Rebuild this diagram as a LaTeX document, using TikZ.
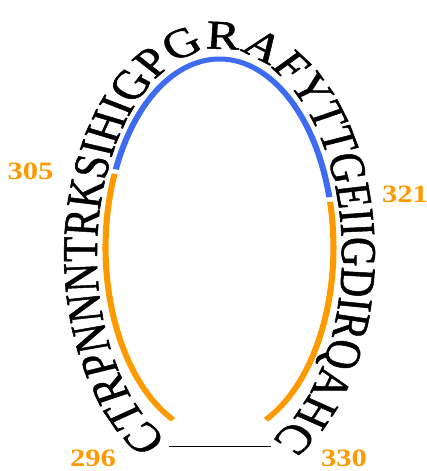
\documentclass[tikz,border=0pt]{standalone}
\usepackage{fontspec}
\setmainfont{Liberation Serif}
\newfontfamily\seqfamily[FakeBold=1.2]{Liberation Serif}
\usetikzlibrary{decorations.text}
\definecolor{lpblue}{RGB}{61,108,242}
\definecolor{lporange}{RGB}{255,153,0}
\newcommand\seqfont{\seqfamily\fontsize{41}{41}\selectfont}

\begin{document}
\begin{tikzpicture}[
x=1pt,y=1pt,
tip/.style={line width=5pt,lporange},
crown/.style={line width=5pt,lpblue},
num/.style={text=lporange,font=\fontsize{25}{25}\selectfont\bfseries,inner sep=0pt},
base/.style={line width=1pt}
]
\useasboundingbox (-219.5,-223.5) rectangle (207.5,247.5);
\begin{scope}[transform canvas={xscale=1.22}]
% sequence along the loop
\begin{scope}[yshift=-6.5pt]
\path[decorate,decoration={text along path,text align=center,
  text={|\seqfont|CTRPNNNTRKSIHIGPGRAFYTTGEIIGDIRQAHC}}]
  (255:100.4pt and 205pt) arc[start angle=255,end angle=-75,x radius=100.4pt,y radius=205pt];
\end{scope}
% coloured segments
\draw[tip] (246:93.4pt and 188.5pt) arc[start angle=246,end angle=157,x radius=93.4pt,y radius=188.5pt];
\draw[crown] (155.5:93.4pt and 188.5pt) arc[start angle=155.5,end angle=15.5,x radius=93.4pt,y radius=188.5pt];
\draw[tip] (14:93.4pt and 188.5pt) arc[start angle=14,end angle=-66,x radius=93.4pt,y radius=188.5pt];
% residue numbers
\node[num] (n305) at (-154.9,76.5) {305};
\node[num] (n321) at (152,53.5) {321};
\node[num] (n296) at (-103.7,-210.5) {296};
\node[num] (n330) at (102,-211) {330};
% base line
\coordinate (bl) at (-41.4,-198.5);
\coordinate (br) at (42.2,-198.5);
\draw[base] (bl) -- (br);
\end{scope}
\end{tikzpicture}
\end{document}
